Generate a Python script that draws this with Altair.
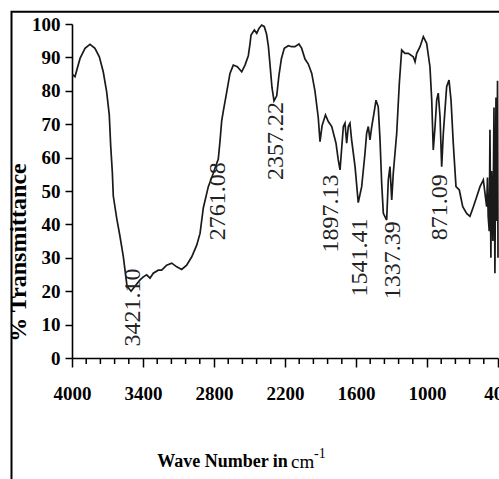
import altair as alt
import pandas as pd

# ---- spectrum ----
wavenumber = [3997, 3975, 3932, 3890, 3848, 3806, 3769, 3736, 3707, 3685,
              3673, 3659, 3651, 3622, 3594, 3566, 3552, 3535, 3501, 3468,
              3425, 3397, 3369, 3341, 3313, 3271, 3242, 3200, 3157, 3115,
              3073, 3031, 2988, 2946, 2918, 2890, 2848, 2806, 2777, 2764,
              2749, 2735, 2721, 2693, 2665, 2637, 2603, 2566, 2538, 2510,
              2496, 2487, 2459, 2439, 2420, 2397, 2375, 2356, 2341, 2327,
              2310, 2293, 2270, 2251, 2230, 2206, 2172, 2143, 2116, 2082,
              2059, 2031, 2003, 1974, 1947, 1919, 1904, 1887, 1858, 1834,
              1805, 1769, 1750, 1735, 1707, 1693, 1679, 1665, 1651, 1637,
              1608, 1581, 1552, 1524, 1510, 1496, 1482, 1467, 1448, 1431,
              1412, 1397, 1383, 1369, 1341, 1327, 1313, 1298, 1285, 1256,
              1234, 1214, 1186, 1158, 1116, 1101, 1087, 1059, 1031, 1003,
              975, 960, 947, 932, 918, 905, 890, 876, 862, 834,
              814, 797, 778, 755, 727, 698, 665, 637, 608, 580,
              552, 524, 496, 489, 483, 474, 468, 460, 454, 443,
              434, 426, 417, 411, 404, 400]
transmittance = [84.9, 84.2, 89.7, 92.7, 93.9, 92.7, 90.2, 85.7, 79.7, 72.8,
                 63.5, 55.5, 48.5, 41.8, 36.3, 30.3, 26.3, 21.5, 20, 21.5,
                 23.4, 24.3, 24.9, 23.9, 25.4, 26.3, 26.3, 27.8, 28.4, 27.3,
                 26.5, 27.8, 30.3, 33.8, 37.3, 45, 51.3, 55.3, 58.3, 59.5,
                 65, 71, 74, 79.5, 85.2, 87.7, 87.2, 85.7, 87.7, 90.5,
                 94, 96.7, 98.2, 97.2, 98.7, 99.7, 99.2, 97, 93.5, 88,
                 81, 77, 78.5, 84.7, 89.7, 92.7, 93.5, 93.2, 93.2, 94,
                 92.7, 89.5, 88, 85.2, 80, 72, 64.8, 69.5, 72.8, 70.8,
                 69.3, 64.3, 59.3, 56.3, 69.3, 70.3, 64.3, 69.3, 70.3, 65.3,
                 57.3, 46.5, 51.3, 61.3, 67.3, 69.3, 65.3, 69.3, 73.3, 77.2,
                 75.2, 65.3, 52.3, 43.3, 41.3, 53.3, 57.3, 47.3, 55.3, 67.3,
                 82.2, 92.2, 91.2, 91.2, 90.2, 88.7, 91.2, 93.2, 96.2, 94.2,
                 87.2, 77.2, 62.3, 69.3, 77.2, 79.3, 72.3, 57.3, 67.3, 81.2,
                 83.2, 77.2, 64.3, 51.3, 50.3, 45.3, 43.3, 42.4, 45.3, 48.3,
                 51.3, 53.3, 45.3, 54, 42.4, 38, 68.3, 30, 56, 35,
                 75, 25.4, 78, 41, 83, 30]

# ---- peak annotations ----
peak_labels = ["3421.10", "2761.08", "2357.22", "1897.13", "1541.41", "1337.39", "871.09"]
peak_label_x = [3485, 2762, 2280, 1811, 1570, 1287, 890]
peak_label_y = [15.1, 46.9, 65.0, 43.3, 30.1, 29.3, 45.1]

# ---- axes ----
x_major = [4000, 3400, 2800, 2200, 1600, 1000, 400]
x_minor = [3880, 3760, 3640, 3520, 3280, 3160, 3040, 2920,
           2680, 2560, 2440, 2320, 2080, 1960, 1840, 1720,
           1480, 1360, 1240, 1120, 880, 760, 640, 520]
y_ticks = [0, 10, 20, 30, 40, 50, 60, 70, 80, 90, 100]

FONT = "Liberation Serif"
W, H = 426, 334

spec = pd.DataFrame({"wn": wavenumber, "t": transmittance})
peaks = pd.DataFrame({"label": peak_labels, "wn": peak_label_x, "t": peak_label_y})
minor = pd.DataFrame({"wn": x_minor})

x_scale = alt.Scale(domain=[4000, 400], nice=False, zero=False)
y_scale = alt.Scale(domain=[0, 100], nice=False, zero=False)

x_axis = alt.Axis(
    values=x_major, format="d", tickCount=len(x_major),
    tickSize=9, tickColor="black", tickWidth=1.5, domainColor="black", domainWidth=1.6,
    labelFont=FONT, labelFontSize=19, labelFontWeight="bold", labelColor="black",
    labelPadding=17, labelFlush=False, labelOverlap=False, labelBound=False, grid=False,
    title="Wave Number in", titleFont=FONT, titleFontSize=18, titleFontWeight="bold",
    titleColor="black", titleX=150, titleY=108, titleAlign="center",
    titleBaseline="alphabetic", titleAnchor="start",
)

y_axis = alt.Axis(
    values=y_ticks, tickCount=len(y_ticks), tickSize=7, tickColor="black", tickWidth=1.5,
    domainColor="black", domainWidth=1.6,
    labelFont=FONT, labelFontSize=19, labelFontWeight="bold", labelColor="black",
    labelPadding=5, labelOverlap=False, labelBound=False, grid=False,
    title="% Transmittance", titleFont=FONT, titleFontSize=24, titleFontWeight="bold",
    titleColor="black", titleX=-53.5, titleY=228, titleAngle=270,
    titleAlign="center", titleBaseline="middle", titleAnchor="start",
)

line = alt.Chart(spec).mark_line(color="#1a1a1a", strokeWidth=1.7).encode(
    x=alt.X("wn:Q", scale=x_scale, axis=x_axis),
    y=alt.Y("t:Q", scale=y_scale, axis=y_axis),
)

# minor ticks on the x axis (every 120 cm-1), drawn below the axis line
minor_ticks = alt.Chart(minor).mark_rule(color="black", strokeWidth=1.5).encode(
    x=alt.X("wn:Q", scale=x_scale, axis=x_axis),
    y=alt.value(H),
    y2=alt.value(H + 6),
)

labels = alt.Chart(peaks).mark_text(
    font=FONT, fontSize=24, angle=270, align="center", baseline="middle", color="#222222"
).encode(
    x=alt.X("wn:Q", scale=x_scale, axis=x_axis),
    y=alt.Y("t:Q", scale=y_scale, axis=y_axis),
    text="label:N",
)

one = alt.Data(values=[{"k": 1}])

frame = alt.Chart(one).mark_rect(
    fillOpacity=0, stroke="black", strokeWidth=2
).encode(
    x=alt.value(-60.5), x2=alt.value(700), y=alt.value(-12.3), y2=alt.value(700)
)

cm_text = alt.Chart(one).mark_text(
    font=FONT, fontSize=19, align="left", baseline="alphabetic", color="black", text="cm"
).encode(x=alt.value(219), y=alt.value(444))

sup_text = alt.Chart(one).mark_text(
    font=FONT, fontSize=14, align="left", baseline="alphabetic", color="black", text="-1"
).encode(x=alt.value(242), y=alt.value(434))

chart = alt.layer(frame, line, minor_ticks, labels, cm_text, sup_text).properties(
    width=W, height=H,
    autosize=alt.AutoSizeParams(type="none"),
    padding={"left": 72, "top": 24, "right": 1, "bottom": 121},
    background="white",
).configure_view(stroke=None)

chart.save("out.html", embed_options={"renderer": "svg", "actions": False})
